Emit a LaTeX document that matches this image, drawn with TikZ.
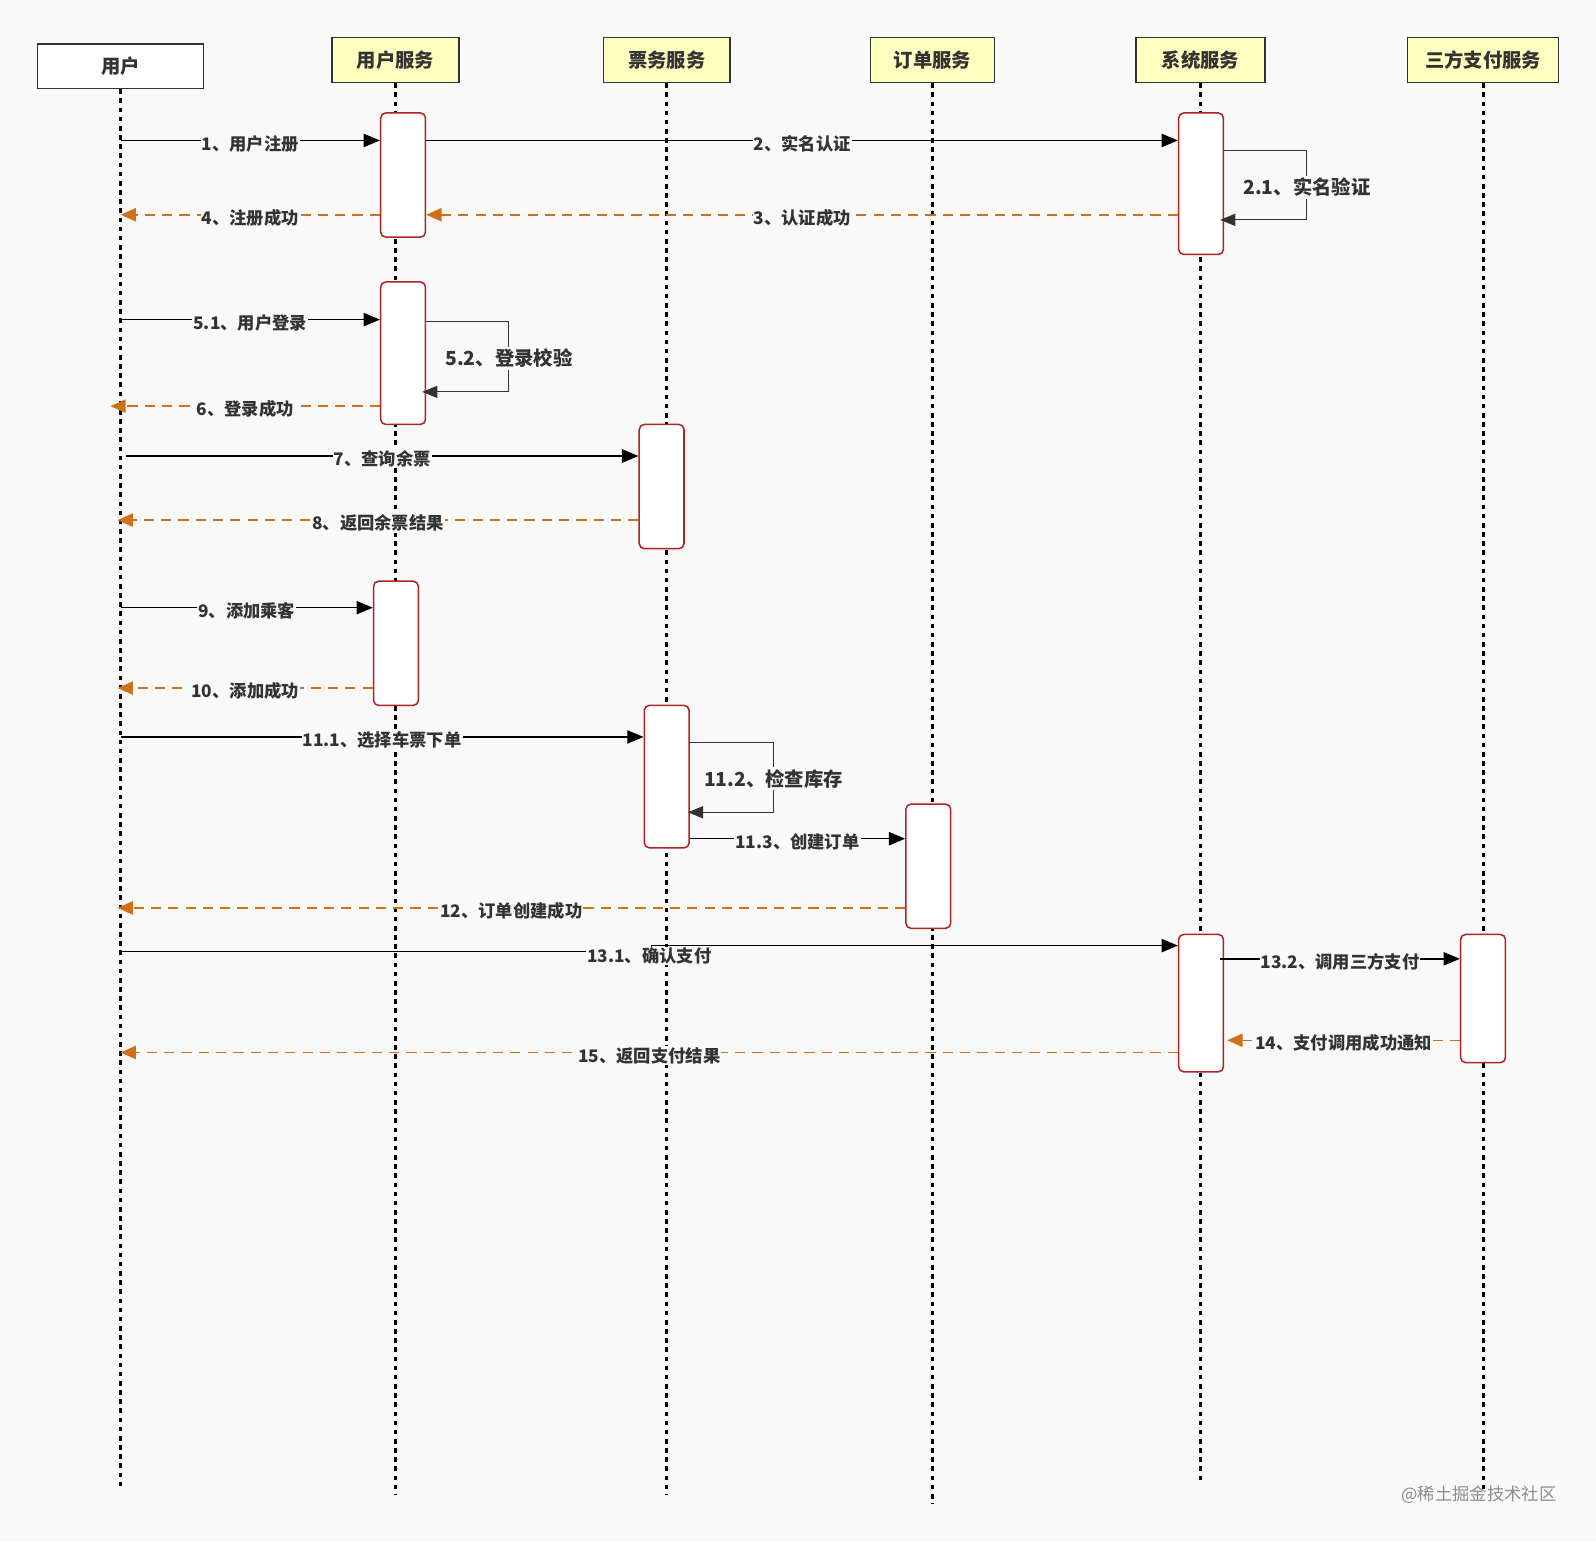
\documentclass[tikz,border=0pt]{standalone}
\usepackage{fontspec}
\setmainfont{Noto Sans CJK SC}
\usetikzlibrary{arrows.meta, positioning, calc}
\definecolor{bgc}{RGB}{249,249,249}
\definecolor{hdrfill}{RGB}{255,255,192}
\definecolor{actred}{RGB}{178,34,34}
\definecolor{retc}{RGB}{208,112,24}
\definecolor{txtc}{RGB}{51,51,51}

\begin{document}
\begin{tikzpicture}[x=1pt, y=-1pt,
  every node/.style={font=\bfseries\fontsize{17}{20}\selectfont, text=txtc},
  hdr/.style={draw=txtc, line width=1.5pt, fill=hdrfill, minimum height=44pt, inner sep=0pt, font=\bfseries\fontsize{19}{22}\selectfont},
  act/.style={draw=actred, line width=1.5pt, fill=white, rounded corners=5pt, minimum width=44pt, inner sep=0pt},
  life/.style={line width=3pt, dash pattern=on 4.5pt off 4.5pt},
  msg/.style={line width=1.5pt, -{Triangle[length=16pt,width=13pt]}},
  ret/.style={line width=1.5pt, draw=retc, dash pattern=on 10pt off 7pt, -{Triangle[length=15pt,width=13pt,fill=retc]}},
  selfmsg/.style={line width=1pt, draw=txtc, -{Triangle[length=15pt,width=12pt,fill=txtc]}},
  lbl/.style={fill=bgc, inner sep=1pt, yshift=-3pt},
  biglbl/.style={fill=bgc, inner sep=2pt, font=\bfseries\fontsize{19}{22}\selectfont}]

\fill[bgc] (0,0) rectangle (1568,1515);
\useasboundingbox (0,0) rectangle (1568,1515);

% lifeline heads
\node[hdr, fill=white, minimum width=163pt] (hu) at (118.5,65) {用户};
\node[hdr, minimum width=125pt] (hus) at (388.5,59) {用户服务};
\node[hdr, minimum width=124pt] (hts) at (655,59) {票务服务};
\node[hdr, minimum width=122pt] (hos) at (916,59) {订单服务};
\node[hdr, minimum width=127pt] (hss) at (1179.5,59) {系统服务};
\node[hdr, minimum width=148pt] (hps) at (1457,59) {三方支付服务};

\coordinate (eu) at (118.5,1463);
\coordinate (eus) at (388.5,1468);
\coordinate (ets) at (655,1468);
\coordinate (eos) at (916,1478);
\coordinate (ess) at (1179.5,1458);
\coordinate (eps) at (1457,1465);

\draw[life] (hu) -- (eu);
\draw[life] (hus) -- (eus);
\draw[life] (hts) -- (ets);
\draw[life] (hos) -- (eos);
\draw[life] (hss) -- (ess);
\draw[life] (hps) -- (eps);

% activations
\node[act, minimum height=122pt] (a1) at (396,172) {};
\node[act, minimum height=139pt] (a2) at (1180,180.5) {};
\node[act, minimum height=140pt] (a3) at (396,347) {};
\node[act, minimum height=122pt] (a4) at (650,478) {};
\node[act, minimum height=122pt] (a5) at (389,632) {};
\node[act, minimum height=140pt] (a6) at (655,763) {};
\node[act, minimum height=122pt] (a7) at (912,851) {};
\node[act, minimum height=135pt] (a8) at (1180,985.5) {};
\node[act, minimum height=126pt] (a9) at (1457,981) {};

% messages
\draw[msg] (hu.south |- 0,138) -- node[lbl]{1、用户注册} (a1.west |- 0,138);
\draw[msg] (a1.east |- 0,138) -- node[lbl]{2、实名认证} (a2.west |- 0,138);
\draw[selfmsg] (a2.east |- 0,148) -| (1284,216) -- ([xshift=-4pt]a2.east |- 0,216);
\node[biglbl] (l21) at (1284,184) {2.1、实名验证};
\draw[ret] (a2.west |- 0,211) -- node[lbl]{3、认证成功} (a1.east |- 0,211);
\draw[ret] (a1.west |- 0,211) -- node[lbl]{4、注册成功} (hu.south |- 0,211);

\draw[msg] (hu.south |- 0,314) -- node[lbl]{5.1、用户登录} (a3.west |- 0,314);
\draw[selfmsg] (a3.east |- 0,316) -| (500,385) -- ([xshift=-4pt]a3.east |- 0,385);
\node[biglbl] (l52) at (500,352) {5.2、登录校验};
\draw[ret] (a3.west |- 0,399) -- node[lbl]{6、登录成功} ([xshift=-10pt]hu.south |- 0,399);

\draw[msg] ([xshift=5pt]hu.south |- 0,448) -- node[lbl]{7、查询余票} (a4.west |- 0,448);
\draw[ret] (a4.west |- 0,511) -- node[lbl]{8、返回余票结果} ([xshift=-3pt]hu.south |- 0,511);

\draw[msg] (hu.south |- 0,597) -- node[lbl]{9、添加乘客} (a5.west |- 0,597);
\draw[ret] (a5.west |- 0,676) -- node[lbl]{10、添加成功} ([xshift=-3pt]hu.south |- 0,676);

\draw[msg] (hu.south |- 0,724) -- node[lbl]{11.1、选择车票下单} (a6.west |- 0,724);
\draw[selfmsg] (a6.east |- 0,729) -| (760,798) -- ([xshift=-2pt]a6.east |- 0,798);
\node[biglbl] (l112) at (760,765) {11.2、检查库存};
\draw[msg] (a6.east |- 0,824) -- node[lbl]{11.3、创建订单} (a7.west |- 0,824);
\draw[ret] (a7.west |- 0,892) -- node[lbl]{12、订单创建成功} ([xshift=-3pt]hu.south |- 0,892);

\draw[msg] (hu.south |- 0,935) -- (640,935) -- (640,929) -- (a8.west |- 0,929);
\node[lbl] (l131) at (638,936) {13.1、确认支付};
\draw[msg] ([xshift=-4pt]a8.east |- 0,942) -- node[lbl]{13.2、调用三方支付} (a9.west |- 0,942);
\draw[ret] (a9.west |- 0,1022) -- node[lbl]{14、支付调用成功通知} ([xshift=3pt]a8.east |- 0,1022);
\draw[ret] (a8.west |- 0,1034) -- node[lbl]{15、返回支付结果} (hu.south |- 0,1034);

\node[font=\fontsize{17}{20}\selectfont, text=black!45] (wm) at (1453,1468) {@稀土掘金技术社区};
\end{tikzpicture}
\end{document}
